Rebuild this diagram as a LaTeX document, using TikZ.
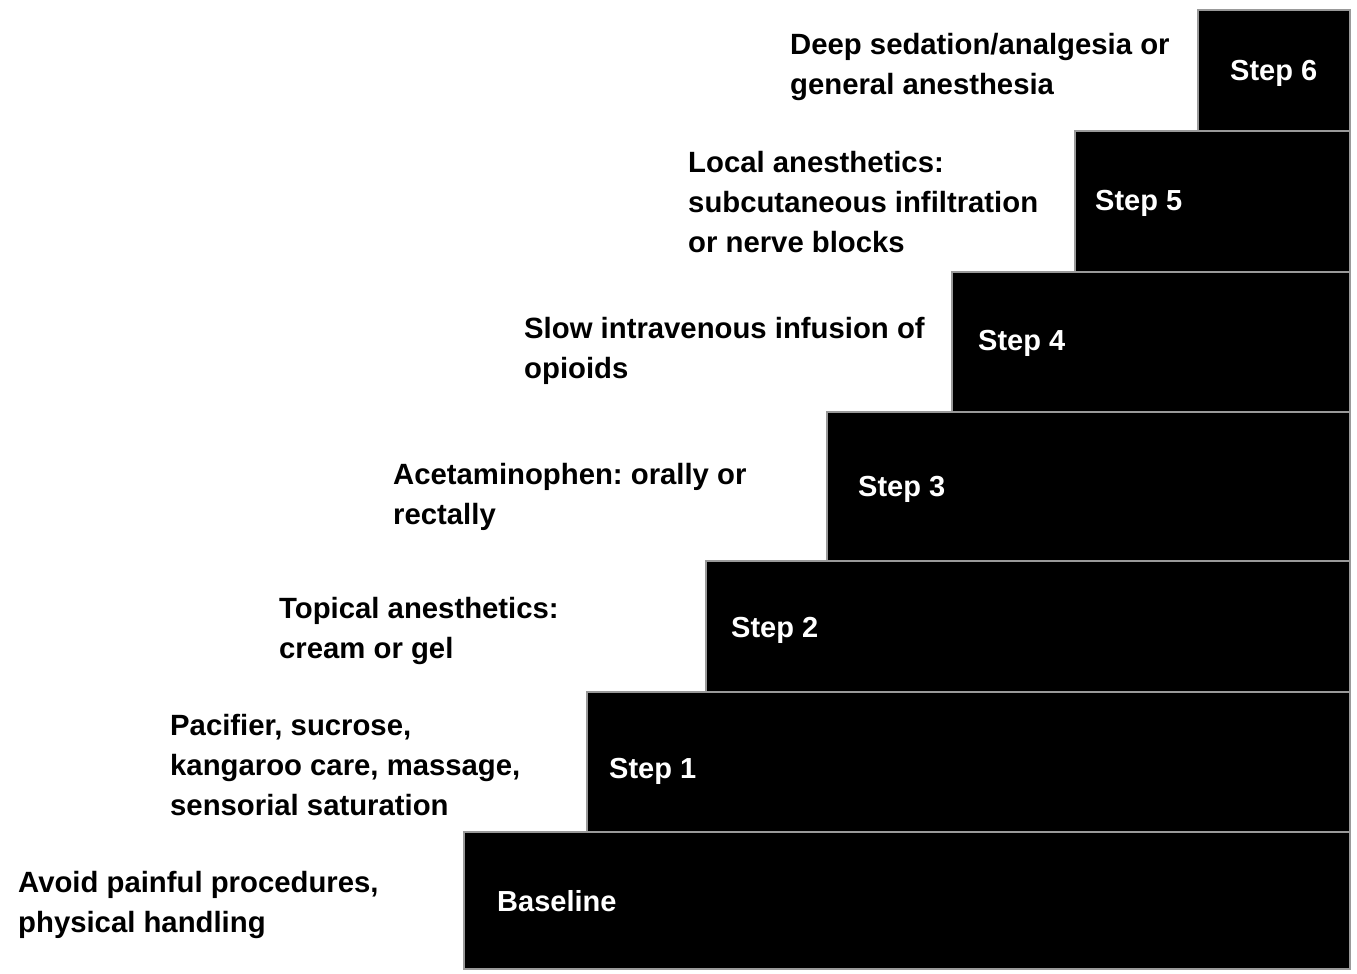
\documentclass[tikz,border=0pt]{standalone}
\usepackage{fontspec}
\setmainfont{Liberation Sans}
\begin{document}
\frenchspacing
\begin{tikzpicture}[x=1pt,y=-1pt,
  bar/.style={fill=black,draw=black!40,line width=2.5pt},
  steplabel/.style={anchor=west,inner sep=0pt,text=white,font=\fontsize{29}{40}\selectfont\bfseries},
  desc/.style={anchor=west,inner sep=0pt,align=left,text=black,font=\fontsize{29.3}{40}\selectfont\bfseries}]
\useasboundingbox (0,0) rectangle (1357,974);
% staircase bars, bottom to top
\path[bar] (464,832) rectangle (1350,969);
\path[bar] (587,692) rectangle (1350,832);
\path[bar] (706,561) rectangle (1350,692);
\path[bar] (827,412) rectangle (1350,561);
\path[bar] (952,272) rectangle (1350,412);
\path[bar] (1075,131) rectangle (1350,272);
\path[bar] (1198,10) rectangle (1350,131);
% step names
\node[steplabel] (s0) at (497,901) {Baseline};
\node[steplabel] (s1) at (609,771) {Step 1};
\node[steplabel] (s2) at (731,630) {Step 2};
\node[steplabel] (s3) at (858,489) {Step 3};
\node[steplabel] (s4) at (978,343) {Step 4};
\node[steplabel] (s5) at (1095,203) {Step 5};
\node[steplabel] (s6) at (1230,73) {Step 6};
% interventions per step
\node[desc] (d0) at (18,905) {Avoid painful procedures,\\physical handling};
\node[desc] (d1) at (170,765) {Pacifier, sucrose,\\kangaroo care, massage,\\sensorial saturation};
\node[desc] (d2) at (279,631) {Topical anesthetics:\\cream or gel};
\node[desc] (d3) at (393,497) {Acetaminophen: orally or\\rectally};
\node[desc] (d4) at (524,351) {Slow intravenous infusion of\\opioids};
\node[desc] (d5) at (688,202) {Local anesthetics:\\subcutaneous infiltration\\or nerve blocks};
\node[desc] (d6) at (790,67) {Deep sedation/analgesia or\\general anesthesia};
\end{tikzpicture}
\end{document}
